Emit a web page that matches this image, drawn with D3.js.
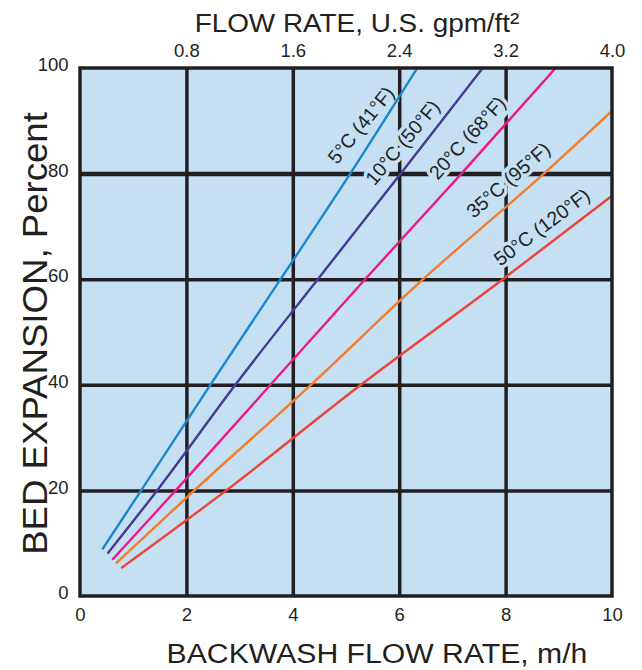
<!DOCTYPE html>
<html>
<head>
<meta charset="utf-8">
<script src="https://cdn.jsdelivr.net/npm/d3@7"></script>
<style>
  body { margin: 0; background: #fff; }
  svg text { font-family: "Liberation Sans", Arial, sans-serif; fill: #231f20; }
</style>
</head>
<body>
<div id="chart"></div>
<script>
// bottom axis: backwash flow rate, m/h ; left axis: bed expansion, %
var xTicks = [0, 2, 4, 6, 8, 10];
var yTicks = [0, 20, 40, 60, 80, 100];
var topTickLabels = ['0.8', '1.6', '2.4', '3.2', '4.0'];

var series5 = [[0.43, 9], [1.15, 20], [2.45, 40], [3.77, 60], [5.08, 80], [6.34, 100]];
var series10 = [[0.53, 8.2], [1.45, 20], [2.92, 40], [4.47, 60], [6.03, 80], [7.57, 100]];
var series20 = [[0.62, 7], [1.8, 20], [3.58, 40], [5.36, 60], [7.17, 80], [8.94, 100]];
var series35 = [[0.69, 6.3], [2.15, 20], [4.34, 40], [6.45, 60], [8.72, 80], [10, 91.9]];
var series50 = [[0.79, 5.4], [2.75, 20], [5.28, 40], [7.95, 60], [10, 75.8]];

var seriesNames = ['5°C (41°F)', '10°C (50°F)', '20°C (68°F)', '35°C (95°F)', '50°C (120°F)'];
var seriesData = [series5, series10, series20, series35, series50];
var seriesColors = ['#1a88cc', '#453a95', '#ec1a87', '#f47c2c', '#ee4239'];
// label anchor in data units and rotation
var labelPos = [[5.28, 89.2, -51], [6.06, 85.9, -50], [7.28, 86.8, -48], [8.05, 78.8, -41], [8.68, 69.9, -37]];

var width = 642, height = 670;
var margin = { top: 68, left: 80 };
var w = 612 - margin.left, h = 596 - margin.top;

var svg = d3.select('#chart').append('svg')
  .attr('width', width)
  .attr('height', height);

var g = svg.append('g').attr('transform', 'translate(' + margin.left + ',' + margin.top + ')');

var x = d3.scaleLinear().domain([0, 10]).range([0, w]);
var y = d3.scaleLinear().domain([0, 100]).range([h, 0]);

var ink = '#231f20';
var bg = '#c5dff3';

g.append('rect')
  .attr('width', w)
  .attr('height', h)
  .attr('fill', bg);

// grid
g.append('g')
  .attr('class', 'grid')
  .attr('transform', 'translate(0,' + h + ')')
  .call(d3.axisBottom(x).tickValues([2, 4, 6, 8]).tickSize(-h).tickFormat(''));
g.append('g')
  .attr('class', 'grid')
  .call(d3.axisLeft(y).tickValues([20, 40, 60, 80]).tickSize(-w).tickFormat(''));
g.selectAll('.grid .domain').remove();
g.selectAll('.grid line')
  .attr('stroke', ink)
  .attr('stroke-width', function(d) { return d === 80 ? 4.5 : 3.5; });

// series labels with halo knocking out the grid
seriesNames.forEach(function(name, i) {
  var p = labelPos[i];
  g.append('text')
    .attr('transform', 'translate(' + x(p[0]) + ',' + y(p[1]) + ') rotate(' + p[2] + ')')
    .attr('text-anchor', 'middle')
    .attr('dy', '0.35em')
    .attr('font-size', 19.5)
    .attr('paint-order', 'stroke')
    .style('stroke', bg)
    .style('stroke-width', 7)
    .text(name);
});

var line = d3.line()
  .x(function(d) { return x(d[0]); })
  .y(function(d) { return y(d[1]); })
  .curve(d3.curveMonotoneX);

seriesData.forEach(function(data, i) {
  g.append('path')
    .datum(data)
    .attr('d', line)
    .attr('fill', 'none')
    .attr('stroke', seriesColors[i])
    .attr('stroke-width', 2.4)
    .attr('stroke-linecap', 'round');
});

// frame
g.append('rect')
  .attr('width', w)
  .attr('height', h)
  .attr('fill', 'none')
  .attr('stroke', ink)
  .attr('stroke-width', 3.5);

// bottom axis
var xAxis = g.append('g')
  .attr('transform', 'translate(0,' + h + ')')
  .call(d3.axisBottom(x).tickValues(xTicks).tickSize(0).tickPadding(11.5).tickFormat(d3.format('d')));
xAxis.select('.domain').remove();
xAxis.selectAll('text').attr('font-size', 18.5).style('fill', ink);

// top axis
var xTop = g.append('g')
  .call(d3.axisTop(x).tickValues([2, 4, 6, 8, 10]).tickSize(0).tickPadding(11)
    .tickFormat(function(d, i) { return topTickLabels[i]; }));
xTop.select('.domain').remove();
xTop.selectAll('text').attr('font-size', 18.5).style('fill', ink);

// left axis
var yAxis = g.append('g')
  .call(d3.axisLeft(y).tickValues(yTicks).tickSize(0).tickPadding(11.5).tickFormat(d3.format('d')));
yAxis.select('.domain').remove();
yAxis.selectAll('text').attr('font-size', 18.5).attr('dy', '0.15em').style('fill', ink);

// titles, fitted to the span they take in the figure
function title(txt, cx, cy, rot, size, span) {
  var t = svg.append('text')
    .attr('text-anchor', 'middle')
    .attr('font-size', size)
    .text(txt);
  var sx = span / t.node().getComputedTextLength();
  t.attr('transform', 'translate(' + cx + ',' + cy + ') rotate(' + rot + ') scale(' + sx + ',1)');
}
title('FLOW RATE, U.S. gpm/ft²', 357, 31.5, 0, 26.5, 325);
title('BACKWASH FLOW RATE, m/h', 377, 663, 0, 27, 421);
title('BED EXPANSION, Percent', 47, 333.5, -90, 35, 443);
</script>
</body>
</html>
